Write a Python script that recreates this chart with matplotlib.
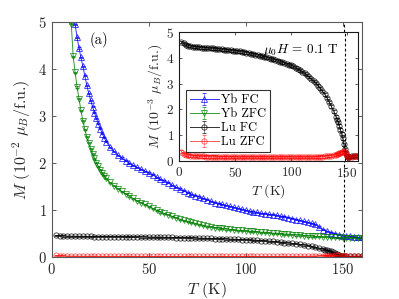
import matplotlib
matplotlib.use("Agg")
import matplotlib.pyplot as plt

plt.rcParams['font.family'] = ['cmr10', 'DejaVu Serif']
plt.rcParams['mathtext.fontset'] = 'cm'
plt.rcParams['axes.formatter.use_mathtext'] = True

# Yb sample, main panel, M in 10^-2 muB/f.u.
yb_T = [10, 11, 12, 13, 14, 15, 16, 17, 18, 19, 20, 21, 22, 23, 24, 25, 26, 27, 28,
        30, 32, 34, 36, 38, 40, 42, 44, 46, 48, 50, 52, 54, 56, 58, 60, 62, 64, 66, 68,
        70, 72, 74, 76, 78, 80, 82, 84, 86, 88, 90, 92, 94, 96, 98, 100, 102, 104, 106,
        108, 110, 112, 114, 116, 118, 120, 122, 124, 126, 128, 130, 132, 134, 136, 138,
        140, 142, 144, 146, 148, 150, 152, 154, 156, 158, 160]
yb_fc = [5.7, 5.3, 4.95, 4.68, 4.45, 4.25, 4.06, 3.86, 3.66, 3.49, 3.34, 3.2, 3.07, 2.95,
         2.84, 2.73, 2.63, 2.54, 2.46,
         2.34, 2.25, 2.17, 2.11, 2.05, 2.00, 1.95, 1.91, 1.87, 1.83, 1.79, 1.75, 1.70, 1.66,
         1.62, 1.58, 1.53, 1.49, 1.45, 1.41, 1.37, 1.34, 1.31, 1.28, 1.25, 1.22, 1.19, 1.16,
         1.14, 1.12, 1.10, 1.08, 1.06, 1.04, 1.02, 1.00, 0.98, 0.96, 0.95, 0.93, 0.92, 0.91,
         0.90, 0.89, 0.87, 0.86, 0.84, 0.82, 0.80, 0.78, 0.76, 0.74, 0.72, 0.70, 0.64, 0.58,
         0.55, 0.52, 0.50, 0.48, 0.46, 0.45, 0.44, 0.43, 0.42, 0.42]
yb_zfc = [4.97, 4.27, 3.93, 3.62, 3.37, 3.12, 2.90, 2.72, 2.56, 2.43, 2.31, 2.20, 2.10, 2.01,
          1.93, 1.86, 1.79, 1.73, 1.68,
          1.59, 1.52, 1.46, 1.40, 1.35, 1.30, 1.25, 1.20, 1.16, 1.12, 1.08, 1.04, 1.00, 0.96,
          0.93, 0.90, 0.87, 0.84, 0.81, 0.78, 0.76, 0.74, 0.72, 0.70, 0.68, 0.66, 0.65, 0.63,
          0.62, 0.61, 0.60, 0.59, 0.58, 0.57, 0.57, 0.56, 0.55, 0.55, 0.54, 0.53, 0.53, 0.52,
          0.51, 0.51, 0.50, 0.49, 0.49, 0.48, 0.47, 0.47, 0.46, 0.45, 0.45, 0.44, 0.44, 0.43,
          0.43, 0.42, 0.42, 0.42, 0.41, 0.41, 0.41, 0.41, 0.40, 0.40]

# Lu sample, M in 10^-3 muB/f.u. (inset units)
lu_T = [2, 4, 6, 8, 10, 12, 14, 16, 18, 20, 22, 24, 26, 28, 30, 32, 34, 36, 38, 40,
        42, 44, 46, 48, 50, 52, 54, 56, 58, 60, 62, 64, 66, 68, 70, 72, 74, 76, 78, 80,
        82, 84, 86, 88, 90, 92, 94, 96, 98, 100, 102, 104, 106, 108, 110, 112, 114, 116,
        118, 120, 122, 124, 126, 128, 130, 132, 134, 136, 138, 140,
        141, 142, 143, 144, 145, 146, 147, 148, 149, 150, 151, 152, 154, 156, 158, 160]
lu_fc = [4.62, 4.56, 4.51, 4.48, 4.46, 4.44, 4.43, 4.42, 4.41, 4.40, 4.39, 4.39, 4.38, 4.37,
         4.37, 4.36, 4.35, 4.34, 4.33, 4.32, 4.31, 4.30, 4.29, 4.28, 4.27, 4.26, 4.25, 4.24,
         4.22, 4.21, 4.19, 4.17, 4.15, 4.13, 4.11, 4.09, 4.07, 4.04, 4.02, 3.99, 3.97, 3.94,
         3.92, 3.89, 3.86, 3.83, 3.80, 3.77, 3.74, 3.71, 3.67, 3.62, 3.57, 3.52, 3.46, 3.40,
         3.33, 3.26, 3.18, 3.10, 3.02, 2.92, 2.82, 2.71, 2.59, 2.45, 2.29, 2.12, 1.93, 1.72,
         1.61, 1.50, 1.37, 1.22, 1.06, 0.88, 0.65, 0.45, 0.30, 0.21, 0.16, 0.17,
         0.19, 0.20, 0.20, 0.20]
lu_zfc = [0.36, 0.29, 0.25, 0.22, 0.21, 0.20, 0.19, 0.19, 0.18, 0.18, 0.18, 0.17, 0.17, 0.17,
          0.17, 0.17, 0.16, 0.16, 0.16, 0.16, 0.16, 0.16, 0.16, 0.15, 0.15, 0.15, 0.15, 0.15,
          0.15, 0.15, 0.15, 0.15, 0.15, 0.15, 0.15, 0.15, 0.15, 0.15, 0.15, 0.15, 0.15, 0.15,
          0.15, 0.15, 0.15, 0.15, 0.15, 0.15, 0.15, 0.15, 0.15, 0.15, 0.15, 0.15, 0.15, 0.15,
          0.15, 0.15, 0.15, 0.15, 0.16, 0.16, 0.17, 0.17, 0.18, 0.19, 0.20, 0.21, 0.23, 0.25,
          0.27, 0.28, 0.30, 0.32, 0.34, 0.36, 0.37, 0.35, 0.29, 0.21, 0.16, 0.14,
          0.16, 0.18, 0.19, 0.19]

err_main = 0.012
err_inset = 0.05
T_c_main = 151
T_c_inset = 148.5

fig = plt.figure(figsize=(3.99, 2.99), dpi=100)
ax = fig.add_axes([0.130, 0.140, 0.777, 0.786])

style = dict(ms=3.8, mew=0.6, mfc='none', lw=0.7, elinewidth=0.4, capsize=1.2, capthick=0.5)
h_ybfc = ax.errorbar(yb_T, yb_fc, yerr=err_main, fmt='-^', color='blue', alpha=0.8, **style)
h_ybzfc = ax.errorbar(yb_T, yb_zfc, yerr=err_main, fmt='-v', color=(0, 0.5, 0), alpha=0.8, **style)
h_lufc = ax.errorbar(lu_T, [v / 10 for v in lu_fc], yerr=err_main, fmt='-o', color='black', alpha=0.8, **style)
h_luzfc = ax.errorbar(lu_T, [v / 10 for v in lu_zfc], yerr=err_main, fmt='-o', color='red', alpha=0.65, **style)
ax.axvline(T_c_main, color='black', ls='--', lw=0.8, dashes=(2.5, 2))

ax.set_xlim(0, 160)
ax.set_ylim(0, 5)
ax.set_xticks([0, 50, 100, 150])
ax.set_yticks([0, 1, 2, 3, 4, 5])
ax.tick_params(direction='in', top=True, right=True, labelsize=10.5, length=3,
               width=0.6, colors='0.25', labelcolor='0.15')
for s in ax.spines.values():
    s.set_color('0.35')
    s.set_linewidth(0.8)
ax.set_xlabel(r'$T$ (K)', fontsize=11.5, labelpad=2, color='0.15')
ax.set_ylabel(r'$M$ $(10^{-2}$ $\mu_B/$f.u.$)$', fontsize=11.5, labelpad=4, color='0.15')
ax.text(24.5, 4.62, '(a)', fontsize=10.5, ha='center', va='center')

# inset
ins = fig.add_axes([0.449, 0.4615, 0.449, 0.431])
ins.errorbar(lu_T, lu_fc, yerr=err_inset, fmt='-o', color='black', alpha=0.8, **style)
ins.errorbar(lu_T, lu_zfc, yerr=err_inset, fmt='-o', color='red', alpha=0.65, **style)
ins.axvline(T_c_inset, color='black', ls='--', lw=0.8, dashes=(2.5, 2))
ins.set_xlim(0, 160)
ins.set_ylim(0, 5)
ins.set_xticks([0, 50, 100, 150])
ins.set_yticks([0, 1, 2, 3, 4, 5])
ins.tick_params(direction='in', top=True, right=True, labelsize=9.5, length=2.5,
                width=0.6, colors='0.25', labelcolor='0.15', pad=3.5)
for s in ins.spines.values():
    s.set_color('0.1')
    s.set_linewidth(0.8)
ins.set_xlabel(r'$T$ (K)', fontsize=10, labelpad=1.5, color='0.15')
ins.set_ylabel(r'$M$ $(10^{-3}$ $\mu_B/$f.u.$)$', fontsize=10, labelpad=1, color='0.15')
ins.text(109, 4.3, r'$\mu_0H$ = 0.1 T', fontsize=9.5, ha='center', va='center')

leg = ins.legend([h_ybfc, h_ybzfc, h_lufc, h_luzfc], ['Yb FC', 'Yb ZFC', 'Lu FC', 'Lu ZFC'],
                 loc='lower left', bbox_to_anchor=(0.04, 0.07), fontsize=9, frameon=True,
                 fancybox=False, edgecolor='black', handlelength=2.3, handletextpad=0.2,
                 labelspacing=0.15, borderpad=0.3, borderaxespad=0)
leg.get_frame().set_linewidth(0.8)

fig.savefig('out.png', dpi=100)
